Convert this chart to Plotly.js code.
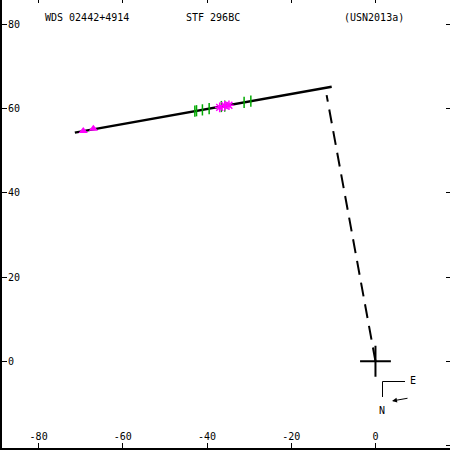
<!DOCTYPE html>
<html>
<head>
<meta charset="utf-8">
<script src="https://cdn.plot.ly/plotly-3.0.1.min.js"></script>
<style>html,body{margin:0;padding:0;background:#fff;}#chart{width:450px;height:450px;}</style>
</head>
<body>
<div id="chart"></div>
<script>
// Data
const fitX = [-71.4, -10.4];
const fitY = [54.3, 65.2];
const dashX = [0, -11.6];
const dashY = [0, 63.2];
const triX = [-69.4, -67.0];
const triY = [54.7, 55.2];
const greenX = [-42.9, -42.5, -41.1, -39.5, -36.6, -35.8, -31.2, -29.6];
const greenY = [59.4, 59.5, 59.7, 60.0, 60.5, 60.6, 61.5, 61.8];
const starX = [-37.0, -35.8, -34.8];
const starY = [60.3, 60.7, 60.8];
const originX = [0];
const originY = [0];
const xTicks = [-80, -60, -40, -20, 0];
const yTicks = [-20, 0, 20, 40, 60, 80];
const titleLeft = "WDS 02442+4914";
const titleMid = "STF 296BC";
const titleRight = "(USN2013a)";

const FONT = {family: "DejaVu Sans Mono, Liberation Mono, monospace", size: 10, color: "#000"};
const L = 2, B = 2, W = 450, H = 450;
const px = v => (v - L) / (W - L);
const py = v => 1 - v / (H - B);

const traces = [
  {x: fitX, y: fitY, mode: "lines", line: {color: "#000", width: 2.5}, hoverinfo: "skip"},
  {x: dashX, y: dashY, mode: "lines", line: {color: "#000", width: 2, dash: "14px,8px"}, hoverinfo: "skip"},
  {x: greenX, y: greenY, mode: "markers", marker: {symbol: "line-ns-open", size: 8, color: "#00aa00", line: {color: "#00aa00", width: 1.5}}},
  {x: starX, y: starY, mode: "markers", marker: {symbol: "asterisk-open", size: 8, color: "#ff00ff", line: {color: "#ff00ff", width: 1.5}}},
  {x: triX, y: triY, mode: "markers", marker: {symbol: "triangle-up", size: 8, color: "#ff00ff"}},
  {x: originX, y: originY, mode: "markers", marker: {symbol: "cross-thin-open", size: 22, color: "#000", line: {color: "#000", width: 2}}},
  {x: [], y: [], xaxis: "x2", yaxis: "y2", mode: "markers"}
];

const axisCommon = {
  showgrid: false, zeroline: false, ticks: "inside", ticklen: 5, tickwidth: 1, tickcolor: "#000",
  tickfont: FONT, fixedrange: true
};

const ann = (text, x, y) => ({text, xref: "paper", yref: "paper", x: px(x), y: py(y),
  xanchor: "center", yanchor: "middle", showarrow: false, font: FONT});

const layout = {
  width: W, height: H,
  margin: {l: L, r: 0, t: 0, b: B, pad: 0},
  paper_bgcolor: "#fff", plot_bgcolor: "#fff",
  showlegend: false,
  font: FONT,
  xaxis: Object.assign({}, axisCommon, {
    range: [-88.7, 17.7], tickvals: xTicks, ticktext: xTicks.map(String),
    showline: true, linecolor: "#000", linewidth: 2, ticklabelposition: "inside"
  }),
  yaxis: Object.assign({}, axisCommon, {
    range: [-20.6, 85.8], tickvals: yTicks, ticktext: yTicks.map(String),
    showline: true, linecolor: "#000", linewidth: 2, ticklabelposition: "inside"
  }),
  xaxis2: Object.assign({}, axisCommon, {
    range: [-88.7, 17.7], tickvals: xTicks, overlaying: "x", side: "top",
    showticklabels: false, showline: false, ticklen: 3
  }),
  yaxis2: Object.assign({}, axisCommon, {
    range: [-20.6, 85.8], tickvals: yTicks, overlaying: "y", side: "right",
    showticklabels: false, showline: false, ticklen: 4
  }),
  shapes: [
    {type: "line", xref: "paper", yref: "paper", x0: px(382.5), y0: py(381.5), x1: px(382.5), y1: py(397), line: {color: "#000", width: 1}},
    {type: "line", xref: "paper", yref: "paper", x0: px(382.5), y0: py(381.5), x1: px(405), y1: py(381.5), line: {color: "#000", width: 1}}
  ],
  annotations: [
    ann(titleLeft, 86.5, 17),
    ann(titleMid, 213, 17),
    ann(titleRight, 374, 17),
    ann("E", 413, 380),
    ann("N", 382, 410),
    {text: "", xref: "paper", yref: "paper", axref: "pixel", ayref: "pixel", x: px(392), y: py(401), ax: 17, ay: -3,
     showarrow: true, arrowhead: 2, arrowsize: 1, arrowwidth: 1, arrowcolor: "#000"}
  ]
};

Plotly.newPlot("chart", traces, layout, {staticPlot: true, displayModeBar: false});
</script>
</body>
</html>
